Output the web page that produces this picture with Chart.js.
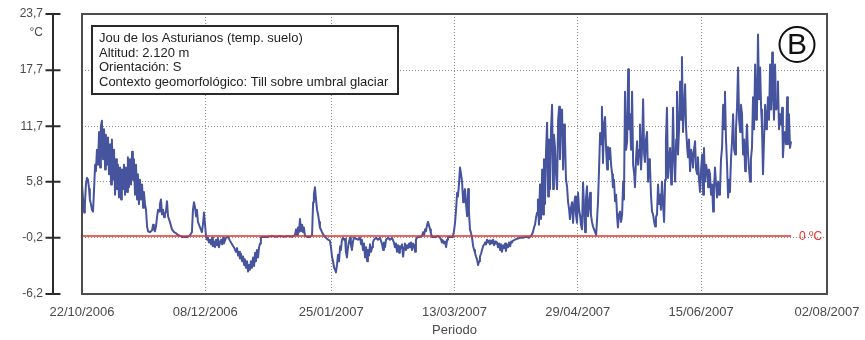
<!DOCTYPE html>
<html>
<head>
<meta charset="utf-8">
<title>Jou de los Asturianos - temperatura del suelo</title>
<script src="https://cdn.jsdelivr.net/npm/chart.js@4.4.1/dist/chart.umd.min.js"></script>
<style>
  html, body { margin: 0; padding: 0; background: #ffffff; }
  #wrap { width: 865px; height: 340px; }
</style>
</head>
<body>
<div id="wrap"><canvas id="chart" width="865" height="340"></canvas></div>
<script>
// Soil temperature readings, grouped by month.
// Each entry: [days since 22/10/2006, temperature in °C]
const oct2006 = [
  [0.0,5.5],[0.4,3.9],[0.8,2.5],[1.1,3.4],[1.5,5.5],[1.9,6.2],[2.3,6.0],[2.7,5.0],[3.0,3.9],[3.4,3.4],
  [3.8,2.8],[4.2,2.6],[4.6,5.0],[5.0,7.6],[5.3,6.9],[5.7,9.2],[6.1,7.6],[6.5,11.1],[6.9,7.3],[7.2,11.7],
  [7.6,12.3],[8.0,8.2],[8.4,11.4],[8.8,7.1],[9.1,10.8],[9.5,7.6],[9.9,10.5]
];
const nov2006 = [
  [10.3,6.6],[10.7,9.8],[11.1,5.5],[11.4,10.3],[11.8,6.0],[12.2,9.2],[12.6,4.4],[13.0,8.2],[13.3,5.0],[13.7,7.6],
  [14.1,4.1],[14.5,7.3],[14.9,3.9],[15.2,7.1],[15.6,5.0],[16.0,7.6],[16.4,4.4],[16.8,7.3],[17.2,4.7],[17.5,8.4],
  [17.9,5.2],[18.3,8.2],[18.7,5.5],[19.1,9.0],[19.4,6.0],[19.8,8.2],[20.2,4.4],[20.6,7.6],[21.0,3.9],[21.3,6.6],
  [21.7,3.4],[22.1,6.0],[22.5,3.9],[22.9,5.5],[23.3,3.0],[23.6,4.7],[24.0,3.4],[24.4,2.8],[24.8,1.0],[25.2,0.5],
  [25.9,0.4],[26.7,0.6],[27.1,1.2],[27.4,0.7],[27.8,0.5],[28.2,1.0],[28.6,2.0],[29.0,2.8],[29.4,2.6],[29.7,3.4],
  [30.1,3.9],[30.5,2.3],[30.9,2.8],[31.3,2.0],[31.6,2.3],[32.0,2.6],[32.4,3.7],[32.8,2.1],[33.5,1.5],[34.3,0.7],
  [35.1,0.4],[35.8,0.3],[36.6,0.1],[37.4,0.0],[38.1,-0.1],[39.3,-0.1]
];
const dec2006 = [
  [40.4,-0.1],[41.2,0.1],[41.9,0.4],[42.3,2.8],[42.7,3.6],[43.1,3.0],[43.5,2.1],[43.8,2.8],[44.2,1.5],[45.0,0.9],
  [45.7,0.4],[46.1,1.2],[46.5,2.5],[46.9,1.2],[47.3,-0.1],[47.7,-0.4],[48.0,-0.2],[48.4,-0.7],[48.8,-0.4],[49.2,-0.9],
  [49.6,-0.2],[49.9,-1.1],[50.3,-0.6],[50.7,-1.2],[51.1,-0.4],[51.5,-1.0],[51.8,-0.2],[52.2,-1.2],[52.6,-0.7],[53.0,-0.4],
  [53.4,-0.9],[53.8,-0.2],[54.1,-0.8],[54.9,-0.2],[55.7,-0.1],[56.4,-0.5],[57.2,-0.9],[57.9,-1.2],[58.7,-1.7],[59.1,-1.3],
  [59.5,-2.1],[59.9,-1.7],[60.2,-2.4],[60.6,-1.9],[61.0,-2.7],[61.4,-2.2],[61.8,-3.1],[62.1,-2.5],[62.5,-3.4],[62.9,-2.7],
  [63.3,-3.8],[63.7,-3.1],[64.0,-3.6],[64.4,-2.7],[64.8,-3.4],[65.2,-2.3],[65.6,-3.2],[66.0,-1.8],[66.3,-2.7],[66.7,-1.5],
  [67.1,-2.3],[67.5,-1.2],[67.9,-0.8],[68.2,-0.2],[68.6,-0.1],[69.4,-0.1],[70.9,-0.1]
];
const jan2007 = [
  [72.4,0.0],[74.0,-0.1],[75.5,0.0],[77.0,-0.1],[78.5,0.0],[80.1,-0.1],[81.2,0.1],[81.6,0.7],[82.0,0.1],[82.3,0.9],
  [82.7,0.4],[83.1,1.8],[83.5,0.5],[83.9,1.2],[84.3,0.4],[84.6,0.9],[85.0,0.0],[85.8,-0.1],[86.9,-0.1],[87.7,0.1],
  [88.1,3.6],[88.4,4.4],[88.8,5.2],[89.2,3.9],[89.6,2.8],[90.0,2.3],[90.4,1.5],[90.7,0.9],[91.5,0.4],[92.3,0.0],
  [93.0,-0.2],[93.8,-0.4],[94.5,-0.5],[94.9,-1.2],[95.3,-2.2],[95.7,-2.7],[96.1,-3.4],[96.5,-3.6],[96.8,-3.9],[97.2,-3.1],
  [97.6,-2.0],[98.0,-2.7],[98.4,-1.1],[98.7,-1.5],[99.1,-0.4],[99.5,-0.2],[99.9,-0.4],[100.3,-0.3],[100.6,-1.7],[101.0,-2.3],
  [101.4,-1.2],[101.8,-0.6]
];
const feb2007 = [
  [102.2,-0.2],[102.5,-0.9],[102.9,-1.5],[103.3,-0.6],[103.7,-0.2],[104.5,-0.3],[105.2,-0.4],[106.0,-0.2],[106.4,-0.9],[106.7,-0.4],
  [107.1,-1.5],[107.5,-0.8],[107.9,-2.3],[108.3,-1.2],[108.7,-2.7],[109.0,-1.5],[109.4,-2.1],[109.8,-0.9],[110.2,-1.7],[110.6,-1.2],
  [110.9,-0.7],[111.3,-0.4],[112.1,-0.2],[112.8,-0.4],[113.6,-0.2],[114.4,-0.9],[114.8,-1.5],[115.1,-0.7],[115.5,-1.2],[115.9,-0.4],
  [116.7,-0.2],[117.4,-0.4],[118.2,-0.2],[118.9,-0.7],[119.3,-1.2],[119.7,-0.8],[120.1,-1.7],[120.5,-1.0],[120.9,-1.8],[121.2,-1.1],
  [121.6,-1.3],[122.0,-0.9],[122.4,-2.2],[122.8,-1.2],[123.1,-0.8],[123.5,-1.5],[123.9,-1.0],[124.3,-1.3],[124.7,-0.8],[125.0,-1.2],
  [125.4,-0.7],[125.8,-1.5],[126.2,-0.8],[126.6,-1.0],[127.0,-1.7],[127.3,-0.4],[127.7,-0.2],[128.1,-0.1],[128.9,-0.1],[129.6,0.0]
];
const mar2007 = [
  [130.0,0.4],[130.4,0.1],[130.8,0.7],[131.1,0.5],[131.5,1.1],[131.9,1.5],[132.3,1.1],[132.7,0.7],[133.0,0.3],[133.4,-0.1],
  [133.8,-0.1],[135.0,-0.1],[135.7,0.0],[136.5,-0.2],[136.9,-0.4],[137.2,-0.7],[137.6,-0.5],[138.0,-0.8],[138.4,-0.6],[138.8,-1.2],
  [139.2,-0.4],[139.5,-0.1],[140.3,-0.1],[141.1,-0.1],[141.4,0.0],[141.8,0.5],[142.2,1.4],[142.6,2.8],[143.0,4.6],[143.3,4.2],
  [143.7,5.5],[144.1,7.3],[144.5,6.6],[144.9,5.7],[145.3,3.6],[145.6,4.4],[146.0,5.0],[146.4,3.4],[146.8,2.1],[147.2,5.0],
  [147.5,2.6],[147.9,0.7],[148.3,0.3],[148.7,-0.2],[149.1,-1.1],[149.5,-1.5],[149.8,-1.8],[150.2,-2.2],[150.6,-2.5],[151.0,-3.1],
  [151.4,-2.7],[151.7,-2.2],[152.1,-1.9],[152.5,-1.5],[152.9,-1.1],[153.3,-0.9],[153.6,-0.7],[154.0,-0.9],[154.4,-0.4],[154.8,-0.7],
  [155.2,-0.5],[155.5,-0.9],[155.9,-0.5],[156.3,-0.8],[156.7,-0.4],[157.1,-1.0],[157.5,-0.6],[157.8,-0.8],[158.2,-0.7],[158.6,-1.2],
  [159.0,-0.8],[159.4,-1.5],[159.7,-0.9],[160.1,-1.7],[160.5,-1.0],[160.9,-1.3]
];
const apr2007 = [
  [161.3,-0.8],[161.6,-1.6],[162.0,-0.9],[162.4,-1.2],[162.8,-0.7],[163.2,-1.1],[163.6,-0.6],[163.9,-0.7],[164.3,-0.5],[165.1,-0.4],
  [165.8,-0.3],[167.0,-0.2],[168.1,-0.2],[169.3,-0.1],[170.4,-0.2],[171.2,0.0],[171.9,0.4],[172.3,0.9],[172.7,1.2],[173.1,2.0],
  [173.5,2.5],[173.8,3.9],[174.2,1.2],[174.6,5.5],[175.0,1.8],[175.4,7.1],[175.8,2.3],[176.1,8.2],[176.5,3.4],[176.9,9.2],
  [177.3,12.1],[177.7,4.2],[178.0,10.3],[178.4,5.0],[178.8,11.4],[179.2,14.0],[179.6,5.0],[179.9,10.8],[180.3,9.5],[180.7,6.6],
  [181.1,5.0],[181.5,12.4],[181.9,13.8],[182.2,8.2],[182.6,13.3],[183.0,13.5],[183.4,7.1],[183.8,11.9],[184.1,10.6],[184.5,6.0],
  [184.9,5.3],[185.3,3.6],[185.7,2.8],[186.0,1.8],[186.4,3.0],[186.8,3.6],[187.2,1.4],[187.6,3.4],[188.0,4.2],[188.3,2.3],
  [188.7,1.4],[189.1,4.6],[189.5,2.8],[189.9,2.1],[190.2,1.2],[190.6,0.7]
];
const may2007 = [
  [191.0,5.7],[191.4,2.8],[191.8,0.4],[192.1,3.9],[192.5,5.3],[192.9,2.1],[193.3,3.4],[193.7,4.6],[194.0,2.3],[194.4,1.5],
  [194.8,1.0],[195.2,0.7],[195.6,0.4],[196.0,0.1],[196.3,0.1],[196.7,3.6],[197.1,7.1],[197.5,11.0],[197.9,9.8],[198.2,13.8],
  [198.6,7.8],[199.0,11.9],[199.4,12.7],[199.8,9.2],[200.2,7.1],[200.5,9.5],[200.9,8.2],[201.3,9.4],[201.7,7.6],[202.1,6.6],
  [202.4,5.2],[202.8,6.0],[203.2,3.7],[203.6,4.4],[204.0,2.0],[204.3,0.9],[204.7,2.3],[205.1,2.6],[205.5,1.5],[205.9,2.3],
  [206.3,5.8],[206.6,3.9],[207.0,15.4],[207.4,9.2],[207.8,10.1],[208.2,17.8],[208.5,11.4],[208.9,13.0],[209.3,9.2],[209.7,15.4],
  [210.1,7.6],[210.5,6.6],[210.8,5.2],[211.2,8.2],[211.6,10.1],[212.0,7.6],[212.4,9.2],[212.7,11.9],[213.1,7.1],[213.5,9.4],
  [213.9,14.6],[214.3,8.7],[214.6,7.9],[215.0,10.3],[215.4,11.1],[215.8,5.8],[216.2,8.2],[216.5,7.6],[216.9,4.4],[217.3,2.6],
  [217.7,2.3],[218.1,1.5],[218.5,1.0],[218.8,2.0],[219.2,2.3],[219.6,5.5],[220.0,3.4],[220.4,4.4],[220.7,2.8],[221.1,5.8],
  [221.5,3.4],[221.9,1.5]
];
const jun2007 = [
  [222.3,6.0],[222.6,10.3],[223.0,13.7],[223.4,6.2],[223.8,8.2],[224.2,9.4],[224.6,5.5],[224.9,6.6],[225.3,13.7],[225.7,8.2],
  [226.1,5.8],[226.5,10.3],[226.8,15.4],[227.2,8.7],[227.6,11.4],[228.0,16.5],[228.4,12.4],[228.7,19.1],[229.1,11.1],[229.5,13.5],
  [229.9,16.2],[230.3,11.4],[230.7,9.4],[231.0,8.4],[231.4,10.3],[231.8,6.9],[232.2,9.2],[232.6,8.7],[232.9,7.3],[233.3,9.2],
  [233.7,10.1],[234.1,7.1],[234.5,6.6],[234.8,8.4],[235.2,6.0],[235.6,4.7],[236.0,7.1],[236.4,8.7],[236.8,4.4],[237.1,9.4],
  [237.5,5.8],[237.9,7.6],[238.3,6.9],[238.7,5.2],[239.0,7.1],[239.4,6.6],[239.8,4.4],[240.2,5.5],[240.6,2.6],[240.9,5.0],
  [241.3,7.3],[241.7,5.5],[242.1,4.1],[242.5,5.8],[242.9,4.4],[243.2,4.7],[243.6,8.2],[244.0,9.4],[244.4,14.0],[244.8,11.4],
  [245.1,15.4],[245.5,10.3],[245.9,7.6],[246.3,4.1],[246.7,6.0],[247.0,4.7],[247.4,8.2],[247.8,10.1],[248.2,13.0],[248.6,9.2],
  [249.0,8.7],[249.3,11.4],[249.7,13.7],[250.1,18.0],[250.5,12.4],[250.9,11.1],[251.2,14.0],[251.6,13.0]
];
const jul2007 = [
  [252.0,8.7],[252.4,10.3],[252.8,6.9],[253.1,9.2],[253.5,11.9],[253.9,8.7],[254.3,7.1],[254.7,5.8],[255.0,8.2],[255.4,9.4],
  [255.8,14.8],[256.2,11.4],[256.6,18.3],[257.0,12.4],[257.3,13.0],[257.7,21.5],[258.1,14.6],[258.5,18.0],[258.9,13.5],[259.2,11.9],
  [259.6,6.6],[260.0,10.3],[260.4,14.0],[260.8,11.4],[261.1,11.9],[261.5,14.8],[261.9,12.4],[262.3,18.3],[262.7,13.5],[263.1,19.6],
  [263.4,15.6],[263.8,12.4],[264.2,18.3],[264.6,13.5],[265.0,13.7],[265.3,16.5],[265.7,11.4],[266.1,13.0],[266.5,11.9],[266.9,13.7],
  [267.2,8.4],[267.6,10.3],[268.0,11.1],[268.4,9.8],[268.8,14.8],[269.1,9.8],[269.5,13.0],[269.9,9.4],[270.3,10.1]
];

// Axis ticks
const dateTickDays   = [0, 47, 95, 142, 189, 236, 284];
const dateTickLabels = ['22/10/2006', '08/12/2006', '25/01/2007', '13/03/2007', '29/04/2007', '15/06/2007', '02/08/2007'];
const tempTicks      = [-6.2, -0.2, 5.8, 11.7, 17.7, 23.7];

// Site description shown in the note box
const siteNotes = [
  'Jou de los Asturianos (temp. suelo)',
  'Altitud: 2.120 m',
  'Orientación: S',
  'Contexto geomorfológico: Till sobre umbral glaciar'
];
const freezingPoint = 0;

const FONT = '"Liberation Sans", Arial, Helvetica, sans-serif';
const SERIES_COLOR = '#46549e';
const ZERO_COLOR = '#e5332a';

const readings = [].concat(oct2006, nov2006, dec2006, jan2007, feb2007, mar2007,
                           apr2007, may2007, jun2007, jul2007);
const series = readings.map(([day, temp]) => ({ x: day, y: temp }));
const lastDay = readings[readings.length - 1][0];

// Extra drawing: 0 °C line, plot frame, detached temperature axis, note box and panel badge
const decorations = {
  id: 'decorations',
  afterDatasetsDraw(chart) {
    const { ctx, chartArea: a, scales: { x, y } } = chart;
    const y0 = y.getPixelForValue(freezingPoint);
    const xEnd = x.getPixelForValue(lastDay);
    ctx.save();
    ctx.strokeStyle = ZERO_COLOR;
    ctx.lineWidth = 1.5;
    ctx.beginPath();
    ctx.moveTo(a.left, y0);
    ctx.lineTo(xEnd, y0);
    ctx.stroke();
    ctx.fillStyle = ZERO_COLOR;
    ctx.font = '12px ' + FONT;
    ctx.textAlign = 'left';
    ctx.textBaseline = 'middle';
    ctx.fillText(freezingPoint + ' ºC', xEnd + 8, y0 + 1);
    ctx.restore();
  },
  afterDraw(chart) {
    const { ctx, chartArea: a, scales: { y } } = chart;
    ctx.save();

    // plot frame
    ctx.strokeStyle = '#4d4d4d';
    ctx.lineWidth = 2;
    ctx.strokeRect(a.left, a.top, a.right - a.left, a.bottom - a.top);

    // detached temperature axis with crossing ticks
    const axisX = a.left - 29;
    const yTop = y.getPixelForValue(tempTicks[tempTicks.length - 1]);
    const yBot = y.getPixelForValue(tempTicks[0]);
    ctx.strokeStyle = '#2b2b2b';
    ctx.lineWidth = 2;
    ctx.beginPath();
    ctx.moveTo(axisX, yTop);
    ctx.lineTo(axisX, yBot);
    tempTicks.forEach(v => {
      const py = y.getPixelForValue(v);
      ctx.moveTo(axisX - 7.5, py);
      ctx.lineTo(axisX + 7.5, py);
    });
    ctx.stroke();

    // unit label
    ctx.fillStyle = '#4a4a4a';
    ctx.font = '12px ' + FONT;
    ctx.textAlign = 'right';
    ctx.textBaseline = 'middle';
    ctx.fillText('°C', a.left - 39, yTop + 19);

    // note box
    const bx = a.left + 10, by = a.top + 12, bw = 306, bh = 68;
    ctx.fillStyle = '#ffffff';
    ctx.fillRect(bx, by, bw, bh);
    ctx.strokeStyle = '#2a2a2a';
    ctx.lineWidth = 2;
    ctx.strokeRect(bx, by, bw, bh);
    ctx.fillStyle = '#222222';
    ctx.font = '13px ' + FONT;
    ctx.textAlign = 'left';
    ctx.textBaseline = 'middle';
    siteNotes.forEach((line, i) => {
      ctx.fillText(line, bx + 7, by + 12.5 + i * 14.7);
    });

    // panel badge
    const cx = a.right - 30, cy = a.top + 30.5;
    ctx.beginPath();
    ctx.arc(cx, cy, 17.5, 0, Math.PI * 2);
    ctx.strokeStyle = '#111111';
    ctx.lineWidth = 2;
    ctx.stroke();
    ctx.fillStyle = '#111111';
    ctx.font = '30px ' + FONT;
    ctx.textAlign = 'center';
    ctx.textBaseline = 'middle';
    ctx.fillText('B', cx, cy + 1.5);

    ctx.restore();
  }
};

new Chart(document.getElementById('chart'), {
  type: 'line',
  data: {
    datasets: [{
      label: 'Temperatura del suelo',
      data: series,
      borderColor: SERIES_COLOR,
      borderWidth: 2,
      borderJoinStyle: 'round',
      pointRadius: 0,
      tension: 0,
      fill: false
    }]
  },
  options: {
    responsive: false,
    animation: false,
    events: [],
    layout: { padding: { top: 14, right: 38, bottom: 0, left: 0 } },
    plugins: {
      legend: { display: false },
      tooltip: { enabled: false }
    },
    scales: {
      x: {
        type: 'linear',
        min: dateTickDays[0],
        max: dateTickDays[dateTickDays.length - 1],
        afterBuildTicks: s => { s.ticks = dateTickDays.map(v => ({ value: v })); },
        afterFit: s => { s.height = 46; },
        ticks: {
          autoSkip: false,
          maxRotation: 0,
          padding: 3,
          color: '#4a4a4a',
          font: { family: FONT, size: 13 },
          callback: (v, i) => dateTickLabels[i]
        },
        // tick marks are kept invisible; their length only spaces the labels
        grid: { color: '#8c8c8c', lineWidth: 1, drawTicks: true, tickLength: 8, tickColor: 'rgba(0,0,0,0)' },
        border: { display: false, dash: [1, 2] },
        title: {
          display: true,
          text: 'Periodo',
          color: '#4a4a4a',
          font: { family: FONT, size: 13 },
          padding: { top: 0, bottom: 2 }
        }
      },
      y: {
        min: tempTicks[0],
        max: tempTicks[tempTicks.length - 1],
        afterBuildTicks: s => { s.ticks = tempTicks.map(v => ({ value: v })); },
        afterFit: s => { s.width = 82; },
        ticks: {
          padding: 3,
          color: '#4a4a4a',
          font: { family: FONT, size: 12 },
          callback: v => v.toFixed(1).replace('.', ',')
        },
        grid: { color: '#8c8c8c', lineWidth: 1, drawTicks: true, tickLength: 36, tickColor: 'rgba(0,0,0,0)' },
        border: { display: false, dash: [1, 2] }
      }
    }
  },
  plugins: [decorations]
});
</script>
</body>
</html>
